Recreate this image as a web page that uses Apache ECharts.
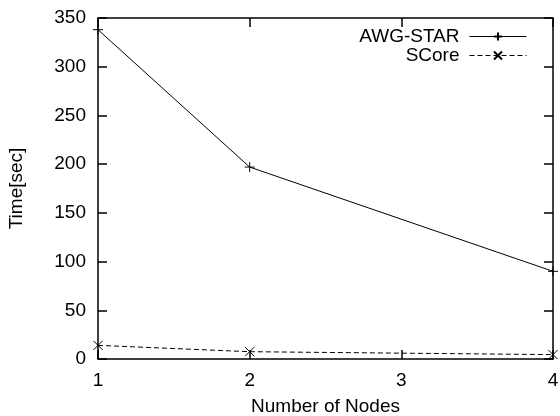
<!DOCTYPE html>
<html><head><meta charset="utf-8">
<script src="https://cdn.jsdelivr.net/npm/echarts@6/dist/echarts.min.js"></script>
<style>html,body{margin:0;padding:0;background:#fff}#c{width:560px;height:416px}</style>
</head><body><div id="c"></div>
<script>
var nodes = [1, 2, 4];
var awgStar = [338, 197, 90];
var score = [14, 7.5, 4.5];
var seriesNames = ['AWG-STAR', 'SCore'];
var xTitle = 'Number of Nodes';
var yTitle = 'Time[sec]';

var FONT = 'Liberation Sans, Arial, sans-serif';
var FS = 19;
var plusPath = 'path://M0,5L10,5M5,0L5,10';
var crossPath = 'path://M0,0L10,10M10,0L0,10';
function pairs(xs, ys){ return xs.map(function(x,i){ return [x, ys[i]]; }); }

var chart = echarts.init(document.getElementById('c'), null, {renderer:'canvas'});
var axisLine = {show:true, onZero:false, lineStyle:{color:'#000', width:1.5}};
var tick = {show:true, inside:true, length:9, lineStyle:{color:'#000', width:1.5}};
chart.setOption({
  animation:false,
  backgroundColor:'#fff',
  grid:{left:98, right:7, top:18, bottom:57, containLabel:false, outerBoundsMode:'none'},
  legend:{
    orient:'vertical', right:28, top:22, align:'right',
    itemWidth:57, itemHeight:10, itemGap:0,
    lineStyle:{width:1},
    textStyle:{fontFamily:FONT, fontSize:FS, color:'#000', padding:[0,5,0,0]},
    data:[seriesNames[0], seriesNames[1]]
  },
  xAxis:[{
    type:'value', min:1, max:4, interval:1,
    name:xTitle, nameLocation:'middle', nameGap:38,
    nameTextStyle:{fontFamily:FONT, fontSize:FS, color:'#000'},
    axisLine:axisLine, axisTick:tick, splitLine:{show:false},
    axisLabel:{fontFamily:FONT, fontSize:FS, color:'#000', margin:12}
  },{
    type:'value', position:'top', min:1, max:4, interval:1,
    axisLine:axisLine, axisTick:tick, splitLine:{show:false}, axisLabel:{show:false}
  }],
  yAxis:[{
    type:'value', min:0, max:350, interval:50,
    name:yTitle, nameLocation:'middle', nameGap:72, nameRotate:90,
    nameTextStyle:{fontFamily:FONT, fontSize:FS, color:'#000'},
    axisLine:axisLine, axisTick:tick, splitLine:{show:false},
    axisLabel:{fontFamily:FONT, fontSize:FS, color:'#000', margin:12}
  },{
    type:'value', position:'right', min:0, max:350, interval:50,
    axisLine:axisLine, axisTick:tick, splitLine:{show:false}, axisLabel:{show:false}
  }],
  series:[{
    name:seriesNames[0], type:'line', data:pairs(nodes, awgStar),
    symbol:plusPath, symbolSize:10, showSymbol:true,
    lineStyle:{color:'#000', width:1},
    itemStyle:{color:'#000', borderColor:'#000', borderWidth:1}
  },{
    name:seriesNames[1], type:'line', data:pairs(nodes, score),
    symbol:crossPath, symbolSize:9, showSymbol:true,
    lineStyle:{color:'#000', width:1, type:[5,3]},
    itemStyle:{color:'#000', borderColor:'#000', borderWidth:1}
  }]
});
</script></body></html>
